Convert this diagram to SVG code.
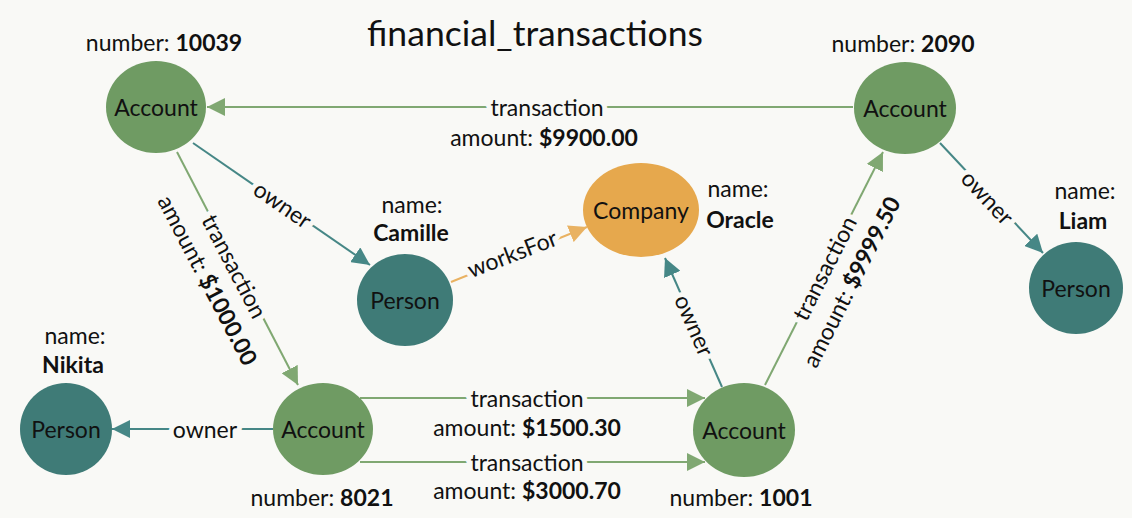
<svg xmlns="http://www.w3.org/2000/svg" width="1132" height="518" viewBox="0 0 1132 518">
<defs>
<style>
.bg{fill:#f9f9f6}
.acc{fill:#6f9b63}
.per{fill:#3f7b77}
.com{fill:#e6a84d}
.t{font-family:Lato,"Open Sans","Liberation Sans",sans-serif;font-size:23px;fill:#111111;text-anchor:middle;dominant-baseline:central}
.b{font-weight:bold}
.halo{stroke:#f9f9f6;stroke-width:10px;paint-order:stroke;stroke-linejoin:round}
.etx{fill:none;stroke:#80a872;stroke-width:2}
.eown{fill:none;stroke:#468786;stroke-width:2}
.ewf{fill:none;stroke:#e9b262;stroke-width:2}
</style>
<marker id="mg" markerUnits="userSpaceOnUse" markerWidth="20" markerHeight="18" refX="18" refY="9" orient="auto"><path d="M0,0 L18,9 L0,18 z" fill="#80a872"/></marker>
<marker id="mt" markerUnits="userSpaceOnUse" markerWidth="20" markerHeight="18" refX="18" refY="9" orient="auto"><path d="M0,0 L18,9 L0,18 z" fill="#468786"/></marker>
<marker id="mo" markerUnits="userSpaceOnUse" markerWidth="20" markerHeight="18" refX="18" refY="9" orient="auto"><path d="M0,0 L18,9 L0,18 z" fill="#e9b262"/></marker>
</defs>
<rect class="bg" x="0" y="0" width="1132" height="518"/>
<text class="t" x="535" y="32" style="font-size:34px" textLength="336" lengthAdjust="spacingAndGlyphs">financial_transactions</text>

<g id="connectors">
<path class="etx" d="M853,107 L207,107" marker-end="url(#mg)"/>
<path class="eown" d="M193,143 L370,265" marker-end="url(#mt)"/>
<path class="etx" d="M177,152 L298,385" marker-end="url(#mg)"/>
<path class="ewf" d="M451,282 L587,227" marker-end="url(#mo)"/>
<path class="eown" d="M722,387 L665,258" marker-end="url(#mt)"/>
<path class="etx" d="M765,385 L883,152" marker-end="url(#mg)"/>
<path class="eown" d="M940,143 L1043,253" marker-end="url(#mt)"/>
<path class="eown" d="M273,429 L112,429" marker-end="url(#mt)"/>
<path class="etx" d="M360,398 L705,398" marker-end="url(#mg)"/>
<path class="etx" d="M360,462 L705,462" marker-end="url(#mg)"/>

<text class="t halo" x="547" y="107">transaction</text>
<text class="t" x="544" y="137">amount: <tspan class="b">$9900.00</tspan></text>

<text class="t halo" transform="translate(283,204) rotate(34.6)">owner</text>

<g transform="translate(235,266) rotate(62.5)">
<text class="t halo" x="0" y="0">transaction</text>
<text class="t" x="0" y="30">amount: <tspan class="b">$1000.00</tspan></text>
</g>

<text class="t halo" transform="translate(512,253) rotate(-21)">worksFor</text>

<text class="t halo" transform="translate(695,325) rotate(66.2)">owner</text>

<g transform="translate(824,268) rotate(-63.1)">
<text class="t halo" x="0" y="0">transaction</text>
<text class="t" x="0" y="30">amount: <tspan class="b">$9999.50</tspan></text>
</g>

<text class="t halo" transform="translate(988,197) rotate(46.9)">owner</text>

<text class="t halo" x="205" y="429">owner</text>

<text class="t halo" x="527" y="398">transaction</text>
<text class="t" x="527" y="427">amount: <tspan class="b">$1500.30</tspan></text>
<text class="t halo" x="527" y="462">transaction</text>
<text class="t" x="527" y="490">amount: <tspan class="b">$3000.70</tspan></text>
</g>

<g id="account-10039">
<ellipse class="acc" cx="156" cy="107" rx="50" ry="46"/>
<text class="t" x="156" y="107">Account</text>
<text class="t" x="164" y="42">number: <tspan class="b">10039</tspan></text>
</g>
<g id="account-2090">
<ellipse class="acc" cx="905" cy="108" rx="51" ry="46"/>
<text class="t" x="905" y="108">Account</text>
<text class="t" x="903" y="43">number: <tspan class="b">2090</tspan></text>
</g>
<g id="person-camille">
<ellipse class="per" cx="405" cy="300" rx="48" ry="46"/>
<text class="t" x="405" y="300">Person</text>
<text class="t" x="412" y="204">name:</text>
<text class="t b" x="411" y="232">Camille</text>
</g>
<g id="company-oracle">
<ellipse class="com" cx="641" cy="210" rx="58" ry="47"/>
<text class="t" x="641" y="210">Company</text>
<text class="t" x="738" y="188">name:</text>
<text class="t b" x="740" y="219">Oracle</text>
</g>
<g id="person-liam">
<ellipse class="per" cx="1076" cy="288" rx="47" ry="46"/>
<text class="t" x="1076" y="288">Person</text>
<text class="t" x="1085" y="190">name:</text>
<text class="t b" x="1083" y="220">Liam</text>
</g>
<g id="person-nikita">
<ellipse class="per" cx="66" cy="429" rx="46" ry="46"/>
<text class="t" x="66" y="429">Person</text>
<text class="t" x="75" y="335">name:</text>
<text class="t b" x="73" y="364">Nikita</text>
</g>
<g id="account-8021">
<ellipse class="acc" cx="323" cy="429" rx="50" ry="46"/>
<text class="t" x="323" y="429">Account</text>
<text class="t" x="322" y="497">number: <tspan class="b">8021</tspan></text>
</g>
<g id="account-1001">
<ellipse class="acc" cx="744" cy="430" rx="51" ry="47"/>
<text class="t" x="744" y="430">Account</text>
<text class="t" x="741" y="497">number: <tspan class="b">1001</tspan></text>
</g>
</svg>
